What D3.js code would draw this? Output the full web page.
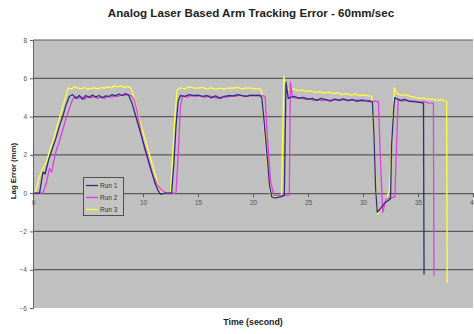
<!DOCTYPE html>
<html><head><meta charset="utf-8">
<script src="https://cdn.jsdelivr.net/npm/d3@7"></script>
<style>
html,body{margin:0;padding:0;background:#fff;}
svg{display:block;font-family:"Liberation Sans",Arial,sans-serif;}
</style></head>
<body>
<svg id="chart" width="474" height="334"></svg>
<script>
const title = "Analog Laser Based Arm Tracking Error - 60mm/sec";
const xLabel = "Time (second)";
const yLabel = "Lag Error (mm)";
const xTicks = [0,5,10,15,20,25,30,35,40];
const yTicks = [-6,-4,-2,0,2,4,6,8];
const seriesNames = ["Run 1","Run 2","Run 3"];
const seriesColors = ["#2e2e7a","#e040e0","#ffff40"];

const run1 = [[0,0],[0.6,0],[0.9,1.1],[1.1,1.0],[1.4,1.7],[1.8,2.4],[2.1,2.9],[2.4,3.5],[2.7,4.0],[3.0,4.6],
 [3.3,5.05],[3.6,5.15],[3.9,4.95],[4.2,5.1],[4.5,4.9],[4.8,5.1],[5.1,5.0],[5.4,5.12],[5.7,5.02],[6.0,5.1],[6.3,4.98],[6.6,5.08],[6.9,5.05],[7.2,5.15],[7.5,5.08],[7.8,5.18],[8.1,5.1],[8.4,5.2],[8.7,5.12],
 [9.0,4.7],[9.3,4.1],[9.6,3.5],[9.9,2.9],[10.2,2.3],[10.5,1.7],[10.8,1.1],[11.1,0.5],[11.4,0.1],[11.6,-0.05],[12.0,0],[12.6,0],[12.8,1.5],[13.0,3.5],[13.2,4.8],
 [13.4,5.1],[13.8,5.05],[14.2,5.15],[14.6,5.1],[15.0,5.12],[15.4,5.05],[15.8,5.1],[16.2,4.98],[16.6,5.08],[17.0,4.95],[17.4,5.05],[17.8,5.1],[18.2,5.08],[18.6,5.15],[19.0,5.1],[19.4,5.05],[19.8,5.12],[20.2,5.1],[20.6,5.1],
 [20.8,5.0],[21.0,3.8],[21.3,1.8],[21.5,0.4],[21.7,-0.2],[22.0,-0.25],[22.5,-0.2],[22.85,-0.1],[23.0,5.8],[23.2,4.95],
 [23.4,5.0],[23.8,5.05],[24.2,4.95],[24.6,5.0],[25.0,4.9],[25.4,4.95],[25.8,4.85],[26.2,4.95],[26.6,4.88],[27.0,4.8],[27.4,4.9],[27.8,4.85],[28.2,4.92],[28.6,4.85],[29.0,4.88],[29.4,4.8],[29.8,4.85],[30.2,4.82],[30.6,4.8],[30.85,4.75],
 [31.0,3.0],[31.15,0.2],[31.3,-1.0],[31.6,-0.8],[32.0,-0.5],[32.5,-0.3],[32.6,2.5],[32.8,4.5],[32.9,5.0],
 [33.0,4.95],[33.4,4.85],[33.8,4.9],[34.2,4.8],[34.6,4.78],[35.0,4.75],[35.4,4.72],[35.5,4.7],[35.55,-4.25]];

const run2 = [[0,0],[0.9,0],[1.2,0.5],[1.5,1.3],[1.7,1.1],[1.9,1.7],[2.1,2.2],[2.4,2.7],[2.7,3.3],[3.0,3.9],[3.3,4.4],[3.6,4.9],
 [3.8,5.05],[4.1,4.95],[4.4,5.05],[4.7,4.9],[5.0,5.05],[5.3,4.98],[5.6,5.05],[5.9,4.95],[6.2,5.02],[6.5,4.95],[6.8,5.05],[7.1,5.0],[7.4,5.08],[7.7,5.05],[8.0,5.12],[8.3,5.1],[8.6,5.15],[8.9,5.1],
 [9.2,4.9],[9.5,4.2],[9.8,3.2],[10.1,2.4],[10.4,1.8],[10.7,1.2],[11.0,0.8],[11.3,0.45],[11.7,0.15],[12.1,0],[13.0,0],[13.2,2.0],[13.4,4.5],
 [13.6,5.1],[14.0,5.0],[14.4,5.1],[14.8,5.05],[15.2,5.1],[15.6,5.0],[16.0,5.08],[16.4,5.02],[16.8,4.95],[17.2,5.05],[17.6,5.0],[18.0,5.08],[18.4,5.05],[18.8,5.12],[19.2,5.05],[19.6,5.1],[20.0,5.08],[20.4,5.12],[20.8,5.1],[21.1,5.05],
 [21.3,3.0],[21.6,0.6],[21.9,-0.1],[22.5,-0.15],[23.3,-0.1],[23.4,5.8],[23.6,5.0],
 [23.9,4.95],[24.3,5.0],[24.7,4.9],[25.1,4.95],[25.5,4.85],[25.9,4.9],[26.3,4.82],[26.7,4.9],[27.1,4.85],[27.5,4.92],[27.9,4.85],[28.3,4.88],[28.7,4.82],[29.1,4.9],[29.5,4.85],[29.9,4.88],[30.3,4.85],[30.7,4.82],[31.1,4.8],[31.4,4.78],
 [31.6,1.5],[31.8,-1.0],[32.1,-0.3],[32.5,-0.25],[32.9,-0.2],[33.05,2.5],[33.2,4.9],
 [33.5,4.8],[33.9,4.85],[34.3,4.78],[34.7,4.82],[35.1,4.75],[35.5,4.78],[35.9,4.72],[36.4,4.7],[36.45,-4.3]];

const run3 = [[0,0],[0.2,0],[0.5,0.7],[0.9,1.3],[1.2,1.6],[1.5,2.2],[1.8,2.7],[2.1,3.3],[2.4,3.9],[2.7,4.5],[3.0,5.1],
 [3.2,5.5],[3.5,5.45],[3.8,5.55],[4.1,5.48],[4.4,5.45],[4.7,5.52],[5.0,5.42],[5.3,5.48],[5.6,5.5],[5.9,5.45],[6.2,5.52],[6.5,5.48],[6.8,5.55],[7.1,5.5],[7.4,5.6],[7.7,5.55],[8.0,5.6],[8.3,5.52],[8.6,5.58],[8.9,5.5],
 [9.2,5.0],[9.5,4.3],[9.8,3.6],[10.1,3.0],[10.4,2.4],[10.7,1.8],[11.0,1.2],[11.3,0.6],[11.6,0.15],[11.9,0],[12.5,0],[12.7,2.0],[12.9,4.0],[13.1,5.4],
 [13.4,5.5],[13.8,5.45],[14.2,5.55],[14.6,5.5],[15.0,5.48],[15.4,5.52],[15.8,5.45],[16.2,5.5],[16.6,5.42],[17.0,5.48],[17.4,5.45],[17.8,5.5],[18.2,5.48],[18.6,5.52],[19.0,5.45],[19.4,5.5],[19.8,5.48],[20.2,5.45],[20.6,5.47],
 [20.8,5.3],[21.0,3.5],[21.3,1.5],[21.6,-0.1],[21.9,-0.2],[22.3,-0.2],[22.6,-0.1],[22.8,6.1],[23.0,5.5],
 [23.3,5.4],[23.7,5.45],[24.1,5.35],[24.5,5.4],[24.9,5.3],[25.3,5.35],[25.7,5.25],[26.1,5.3],[26.5,5.22],[26.9,5.28],[27.3,5.2],[27.7,5.25],[28.1,5.15],[28.5,5.2],[28.9,5.12],[29.3,5.18],[29.7,5.1],[30.1,5.12],[30.5,5.08],[30.8,5.05],
 [31.0,2.8],[31.2,-0.2],[31.35,-1.1],[31.7,-0.7],[32.1,-0.4],[32.4,0.2],[32.65,3.0],[32.85,5.5],
 [33.1,5.2],[33.5,5.1],[33.9,5.15],[34.3,5.05],[34.7,5.02],[35.1,4.95],[35.5,4.98],[35.9,4.9],[36.3,4.92],[36.7,4.85],[37.1,4.88],[37.5,4.82],[37.6,4.8],[37.65,-4.7]];

const seriesData = [run1, run2, run3];

const svg = d3.select("#chart");
const x = d3.scaleLinear().domain([0,40]).range([33,473]);
const y = d3.scaleLinear().domain([-6,8]).range([308,40]);

// plot area
svg.append("rect").attr("x",x(0)).attr("y",y(8)).attr("width",x(40)-x(0)).attr("height",y(-6)-y(8)).attr("fill","#c0c0c0");

// gridlines
svg.append("g").selectAll("line").data(yTicks.filter(d=>d!==0 && d!==-6)).join("line")
  .attr("x1",x(0)).attr("x2",x(40)).attr("y1",d=>y(d)).attr("y2",d=>y(d))
  .attr("stroke","#5a5a5a").attr("stroke-width",1.2);

// y axis
const gy = svg.append("g").attr("transform",`translate(${x(0)},0)`)
  .call(d3.axisLeft(y).tickValues(yTicks).tickSize(3).tickPadding(3).tickFormat(d3.format("d")));
gy.select(".domain").attr("stroke","#606060");
gy.selectAll(".tick line").attr("stroke","#606060");
gy.selectAll("text").attr("font-size",6.5).attr("fill","#555");

// x axis at y=0
const gx = svg.append("g").attr("transform",`translate(0,${y(0)})`)
  .call(d3.axisBottom(x).tickValues(xTicks).tickSize(4).tickPadding(3).tickFormat(d3.format("d")));
gx.select(".domain").attr("stroke","#5a5a5a").attr("stroke-width",1.2);
gx.selectAll(".tick line").attr("stroke","#5a5a5a");
gx.selectAll("text").attr("font-size",6.5).attr("fill","#555");

// lines
const line = d3.line().x(d=>x(d[0])).y(d=>y(d[1]));
svg.append("g").selectAll("path").data(seriesData.map((d,i)=>({d,i})).reverse()).join("path")
  .attr("d",o=>line(o.d)).attr("fill","none")
  .attr("stroke",o=>seriesColors[o.i]).attr("stroke-width",1.3).attr("stroke-linejoin","round");

// legend
const lg = svg.append("g");
lg.append("rect").attr("x",83.5).attr("y",177.5).attr("width",40).attr("height",38)
  .attr("fill","#c4c4c4").attr("stroke","#505050").attr("stroke-width",1);
seriesNames.forEach((n,i)=>{
  const yy = 185.5 + i*12;
  lg.append("line").attr("x1",86).attr("x2",98).attr("y1",yy).attr("y2",yy)
    .attr("stroke",seriesColors[i]).attr("stroke-width",1.3);
  lg.append("text").attr("x",100).attr("y",yy+2.3).attr("font-size",6.5).attr("fill","#333").text(n);
});

// titles
svg.append("text").attr("x",251).attr("y",16.5).attr("text-anchor","middle")
  .attr("font-size",11.6).attr("font-weight","bold").attr("fill","#222").text(title);
svg.append("text").attr("x",253).attr("y",325).attr("text-anchor","middle")
  .attr("font-size",8.8).attr("font-weight","bold").attr("fill","#222").text(xLabel);
svg.append("text").attr("transform","translate(15.5,171) rotate(-90)").attr("text-anchor","middle")
  .attr("font-size",7.8).attr("font-weight","bold").attr("fill","#222").text(yLabel);
</script>
</body></html>
